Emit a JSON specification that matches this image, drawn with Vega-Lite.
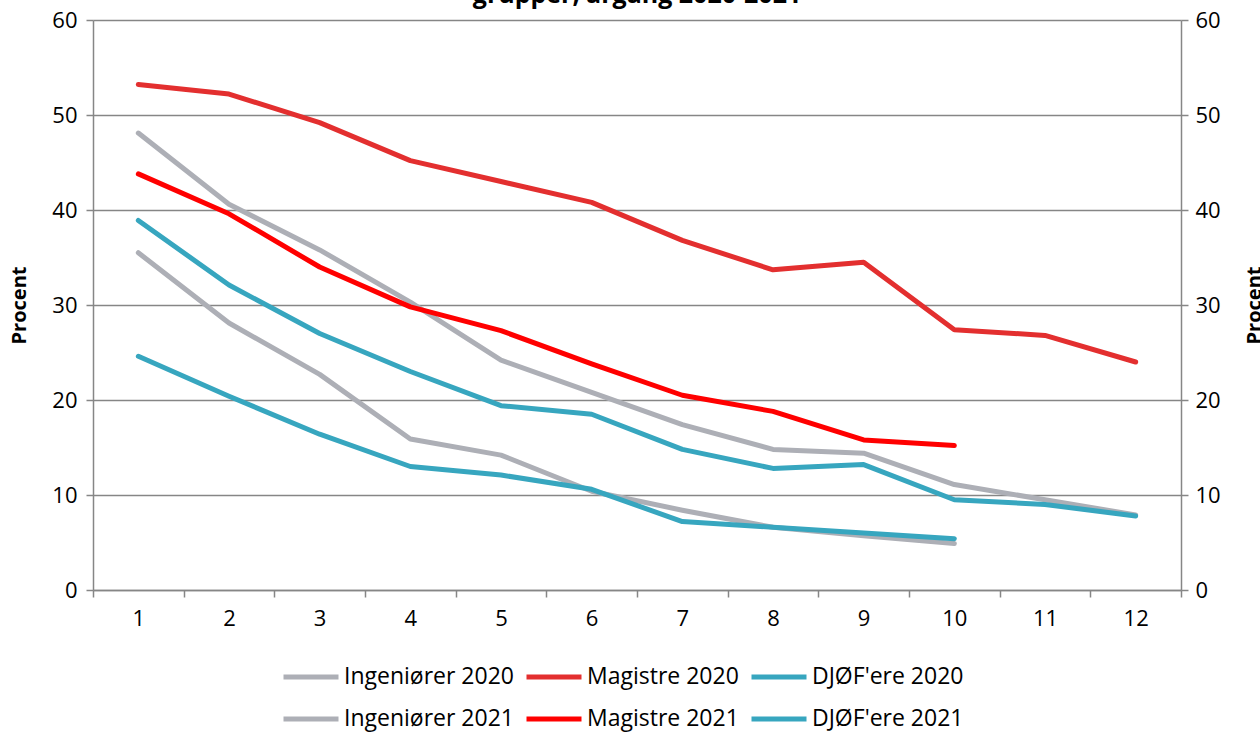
{
  "$schema": "https://vega.github.io/schema/vega-lite/v6.json",
  "width": 1088,
  "height": 570,
  "autosize": {"type": "none"},
  "padding": {"left": 93, "top": 20, "right": 79, "bottom": 146},
  "background": "white",
  "config": {
    "font": "Open Sans",
    "view": {"stroke": null}
  },
  "title": {
    "text": "grupper, årgang 2020-2021",
    "fontSize": 25,
    "fontWeight": "bold",
    "font": "Open Sans",
    "color": "black",
    "anchor": "middle",
    "frame": "group",
    "offset": -20,
    "dy": -21
  },
  "data": {
    "values": [
      {"g": "Ingeniører 2020", "x": 1, "v": 48.1},
      {"g": "Ingeniører 2020", "x": 2, "v": 40.6},
      {"g": "Ingeniører 2020", "x": 3, "v": 35.8},
      {"g": "Ingeniører 2020", "x": 4, "v": 30.3},
      {"g": "Ingeniører 2020", "x": 5, "v": 24.2},
      {"g": "Ingeniører 2020", "x": 6, "v": 20.8},
      {"g": "Ingeniører 2020", "x": 7, "v": 17.4},
      {"g": "Ingeniører 2020", "x": 8, "v": 14.8},
      {"g": "Ingeniører 2020", "x": 9, "v": 14.4},
      {"g": "Ingeniører 2020", "x": 10, "v": 11.1},
      {"g": "Ingeniører 2020", "x": 11, "v": 9.5},
      {"g": "Ingeniører 2020", "x": 12, "v": 7.9},
      {"g": "Magistre 2020", "x": 1, "v": 53.2},
      {"g": "Magistre 2020", "x": 2, "v": 52.2},
      {"g": "Magistre 2020", "x": 3, "v": 49.2},
      {"g": "Magistre 2020", "x": 4, "v": 45.2},
      {"g": "Magistre 2020", "x": 5, "v": 43.0},
      {"g": "Magistre 2020", "x": 6, "v": 40.8},
      {"g": "Magistre 2020", "x": 7, "v": 36.8},
      {"g": "Magistre 2020", "x": 8, "v": 33.7},
      {"g": "Magistre 2020", "x": 9, "v": 34.5},
      {"g": "Magistre 2020", "x": 10, "v": 27.4},
      {"g": "Magistre 2020", "x": 11, "v": 26.8},
      {"g": "Magistre 2020", "x": 12, "v": 24.0},
      {"g": "DJØF'ere 2020", "x": 1, "v": 38.9},
      {"g": "DJØF'ere 2020", "x": 2, "v": 32.1},
      {"g": "DJØF'ere 2020", "x": 3, "v": 27.0},
      {"g": "DJØF'ere 2020", "x": 4, "v": 23.0},
      {"g": "DJØF'ere 2020", "x": 5, "v": 19.4},
      {"g": "DJØF'ere 2020", "x": 6, "v": 18.5},
      {"g": "DJØF'ere 2020", "x": 7, "v": 14.8},
      {"g": "DJØF'ere 2020", "x": 8, "v": 12.8},
      {"g": "DJØF'ere 2020", "x": 9, "v": 13.2},
      {"g": "DJØF'ere 2020", "x": 10, "v": 9.5},
      {"g": "DJØF'ere 2020", "x": 11, "v": 9.0},
      {"g": "DJØF'ere 2020", "x": 12, "v": 7.8},
      {"g": "Ingeniører 2021", "x": 1, "v": 35.5},
      {"g": "Ingeniører 2021", "x": 2, "v": 28.1},
      {"g": "Ingeniører 2021", "x": 3, "v": 22.7},
      {"g": "Ingeniører 2021", "x": 4, "v": 15.9},
      {"g": "Ingeniører 2021", "x": 5, "v": 14.2},
      {"g": "Ingeniører 2021", "x": 6, "v": 10.4},
      {"g": "Ingeniører 2021", "x": 7, "v": 8.4},
      {"g": "Ingeniører 2021", "x": 8, "v": 6.6},
      {"g": "Ingeniører 2021", "x": 9, "v": 5.7},
      {"g": "Ingeniører 2021", "x": 10, "v": 4.9},
      {"g": "Magistre 2021", "x": 1, "v": 43.8},
      {"g": "Magistre 2021", "x": 2, "v": 39.6},
      {"g": "Magistre 2021", "x": 3, "v": 34.0},
      {"g": "Magistre 2021", "x": 4, "v": 29.8},
      {"g": "Magistre 2021", "x": 5, "v": 27.3},
      {"g": "Magistre 2021", "x": 6, "v": 23.8},
      {"g": "Magistre 2021", "x": 7, "v": 20.5},
      {"g": "Magistre 2021", "x": 8, "v": 18.8},
      {"g": "Magistre 2021", "x": 9, "v": 15.8},
      {"g": "Magistre 2021", "x": 10, "v": 15.2},
      {"g": "DJØF'ere 2021", "x": 1, "v": 24.6},
      {"g": "DJØF'ere 2021", "x": 2, "v": 20.4},
      {"g": "DJØF'ere 2021", "x": 3, "v": 16.4},
      {"g": "DJØF'ere 2021", "x": 4, "v": 13.0},
      {"g": "DJØF'ere 2021", "x": 5, "v": 12.1},
      {"g": "DJØF'ere 2021", "x": 6, "v": 10.6},
      {"g": "DJØF'ere 2021", "x": 7, "v": 7.2},
      {"g": "DJØF'ere 2021", "x": 8, "v": 6.6},
      {"g": "DJØF'ere 2021", "x": 9, "v": 6.0},
      {"g": "DJØF'ere 2021", "x": 10, "v": 5.4}
    ]
  },
  "layer": [
    {
      "mark": {"type": "line", "strokeWidth": 5, "strokeCap": "round", "strokeJoin": "round"},
      "encoding": {
        "x": {
          "field": "x",
          "type": "ordinal",
          "sort": "ascending",
          "scale": {"paddingInner": 0, "paddingOuter": 0},
          "axis": {
            "title": null,
            "labelAngle": 0,
            "labelFontSize": 22,
            "labelColor": "black",
            "labelPadding": 11,
            "tickBand": "extent",
            "tickSize": 7,
            "tickColor": "#868686",
            "tickWidth": 1.5,
            "domainColor": "#868686",
            "domainWidth": 1.5,
            "grid": false
          }
        },
        "y": {
          "field": "v",
          "type": "quantitative",
          "scale": {"domain": [0, 60], "nice": false},
          "axis": {
            "title": "Procent",
            "titleFontSize": 20,
            "titleFontWeight": "bold",
            "titleColor": "black",
            "titlePadding": 22,
            "values": [0, 10, 20, 30, 40, 50, 60],
            "labelFontSize": 22,
            "labelColor": "black",
            "labelPadding": 9,
            "tickSize": 7,
            "tickColor": "#868686",
            "tickWidth": 1.5,
            "domainColor": "#868686",
            "domainWidth": 1.5,
            "grid": true,
            "gridColor": "#868686",
            "gridWidth": 1.5
          }
        },
        "color": {
          "field": "g",
          "type": "nominal",
          "sort": null,
          "scale": {
            "domain": ["Ingeniører 2020", "Magistre 2020", "DJØF'ere 2020", "Ingeniører 2021", "Magistre 2021", "DJØF'ere 2021"],
            "range": ["#ADAFB6", "#E32F2F", "#37A6BF", "#ADAFB6", "#FF0000", "#37A6BF"]
          },
          "legend": {
            "title": null,
            "orient": "none",
            "legendX": 188,
            "legendY": 627,
            "direction": "horizontal",
            "columns": 3,
            "symbolType": "stroke",
            "symbolSize": 3025,
            "symbolStrokeWidth": 5,
            "labelFontSize": 23,
            "labelColor": "black",
            "labelOffset": 3,
            "columnPadding": 2,
            "rowPadding": -5,
            "labelLimit": 400
          }
        }
      }
    },
    {
      "mark": {"type": "line", "opacity": 0},
      "encoding": {
        "x": {"field": "x", "type": "ordinal", "sort": "ascending"},
        "y": {
          "field": "v",
          "type": "quantitative",
          "scale": {"domain": [0, 60], "nice": false},
          "axis": {
            "orient": "right",
            "title": "Procent",
            "titleAngle": 270,
            "titleFontSize": 20,
            "titleFontWeight": "bold",
            "titleColor": "black",
            "titlePadding": 44,
            "values": [0, 10, 20, 30, 40, 50, 60],
            "labelFontSize": 22,
            "labelColor": "black",
            "labelPadding": 7,
            "tickSize": 7,
            "tickColor": "#868686",
            "tickWidth": 1.5,
            "domainColor": "#868686",
            "domainWidth": 1.5,
            "grid": false
          }
        },
        "detail": {"field": "g"}
      }
    }
  ],
  "resolve": {"scale": {"y": "independent"}}
}
